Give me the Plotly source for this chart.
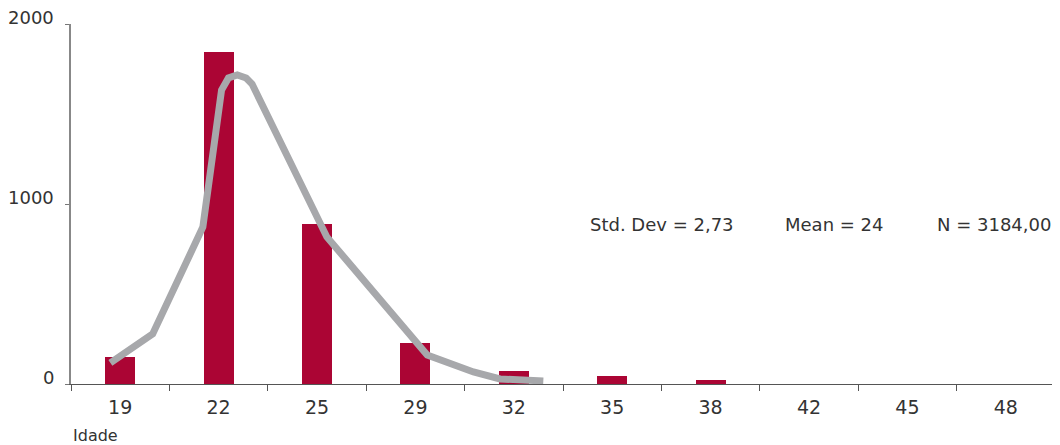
import plotly.graph_objects as go

categories = ["19", "22", "25", "29", "32", "35", "38", "42", "45", "48"]
counts = [150, 1844, 889, 228, 72, 44, 22, 0, 0, 0]

# density curve, x in category-index units (0 = "19")
curve_x = [-0.10, 0.33, 0.84, 0.94, 1.03, 1.10, 1.19, 1.28, 1.34, 2.10, 3.12, 3.59, 3.86, 4.30]
curve_y = [117, 278, 872, 1280, 1633, 1700, 1717, 1700, 1667, 817, 161, 67, 28, 17]

y_ticks = [0, 1000, 2000]
stats = ["Std. Dev = 2,73", "Mean = 24", "N = 3184,00"]

font_family = "DejaVu Sans"
text_color = "#333333"

# page body has an 8px margin, so the figure is sized to fit the 1060x445 window
W, H = 1052, 437
L, R, T, B = 63, 5, 16, 61
pw = W - L - R
ph = H - T - B

fig = go.Figure()
fig.add_trace(go.Bar(
    x=list(range(len(categories))), y=counts, width=0.305,
    marker=dict(color="#ab0534", line=dict(width=0)),
))
fig.add_trace(go.Scatter(
    x=curve_x, y=curve_y, mode="lines",
    line=dict(color="#a7a8ab", width=7),
))

ann_x = [588, 783, 935]
for t, px in zip(stats, ann_x):
    fig.add_annotation(
        x=(px - 8 - L) / pw, y=(384 - 224) / ph,
        xref="paper", yref="paper", xanchor="left", yanchor="middle",
        text=t, showarrow=False,
        font=dict(family=font_family, size=18, color=text_color),
    )

# y tick labels sit just above their tick marks
for v in y_ticks:
    fig.add_annotation(
        x=(56 - 8 - L) / pw, y=v, xref="paper", yref="y",
        xanchor="right", yanchor="middle", yshift=7,
        text=str(v), showarrow=False,
        font=dict(family=font_family, size=18, color=text_color),
    )

fig.add_annotation(
    x=(71 - 8 - L) / pw, y=-(435 - 384) / ph, xref="paper", yref="paper",
    xanchor="left", yanchor="middle", text="Idade", showarrow=False,
    font=dict(family=font_family, size=16, color=text_color),
)

fig.update_layout(
    width=W, height=H,
    margin=dict(l=L, r=R, t=T, b=B),
    paper_bgcolor="white", plot_bgcolor="white",
    showlegend=False,
    font=dict(family=font_family, size=16, color=text_color),
    bargap=0,
)
fig.update_xaxes(
    range=[-0.5, 9.5],
    tickmode="array", tickvals=list(range(len(categories))), ticktext=categories,
    ticks="", showgrid=False, zeroline=False,
    showline=True, linecolor="#555555", linewidth=1,
    ticklabelstandoff=6,
    tickfont=dict(family=font_family, size=19, color=text_color),
    minor=dict(tickmode="array", tickvals=[i - 0.5 for i in range(len(categories) + 1)],
               ticks="outside", ticklen=6, tickcolor="#555555", tickwidth=1, showgrid=False),
)
fig.update_yaxes(
    range=[0, 2000], tickmode="array", tickvals=y_ticks,
    showticklabels=False,
    ticks="outside", ticklen=4, tickcolor="#777777",
    showgrid=False, zeroline=False,
    showline=True, linecolor="#888888", linewidth=2,
)

fig.write_html("out.html")
